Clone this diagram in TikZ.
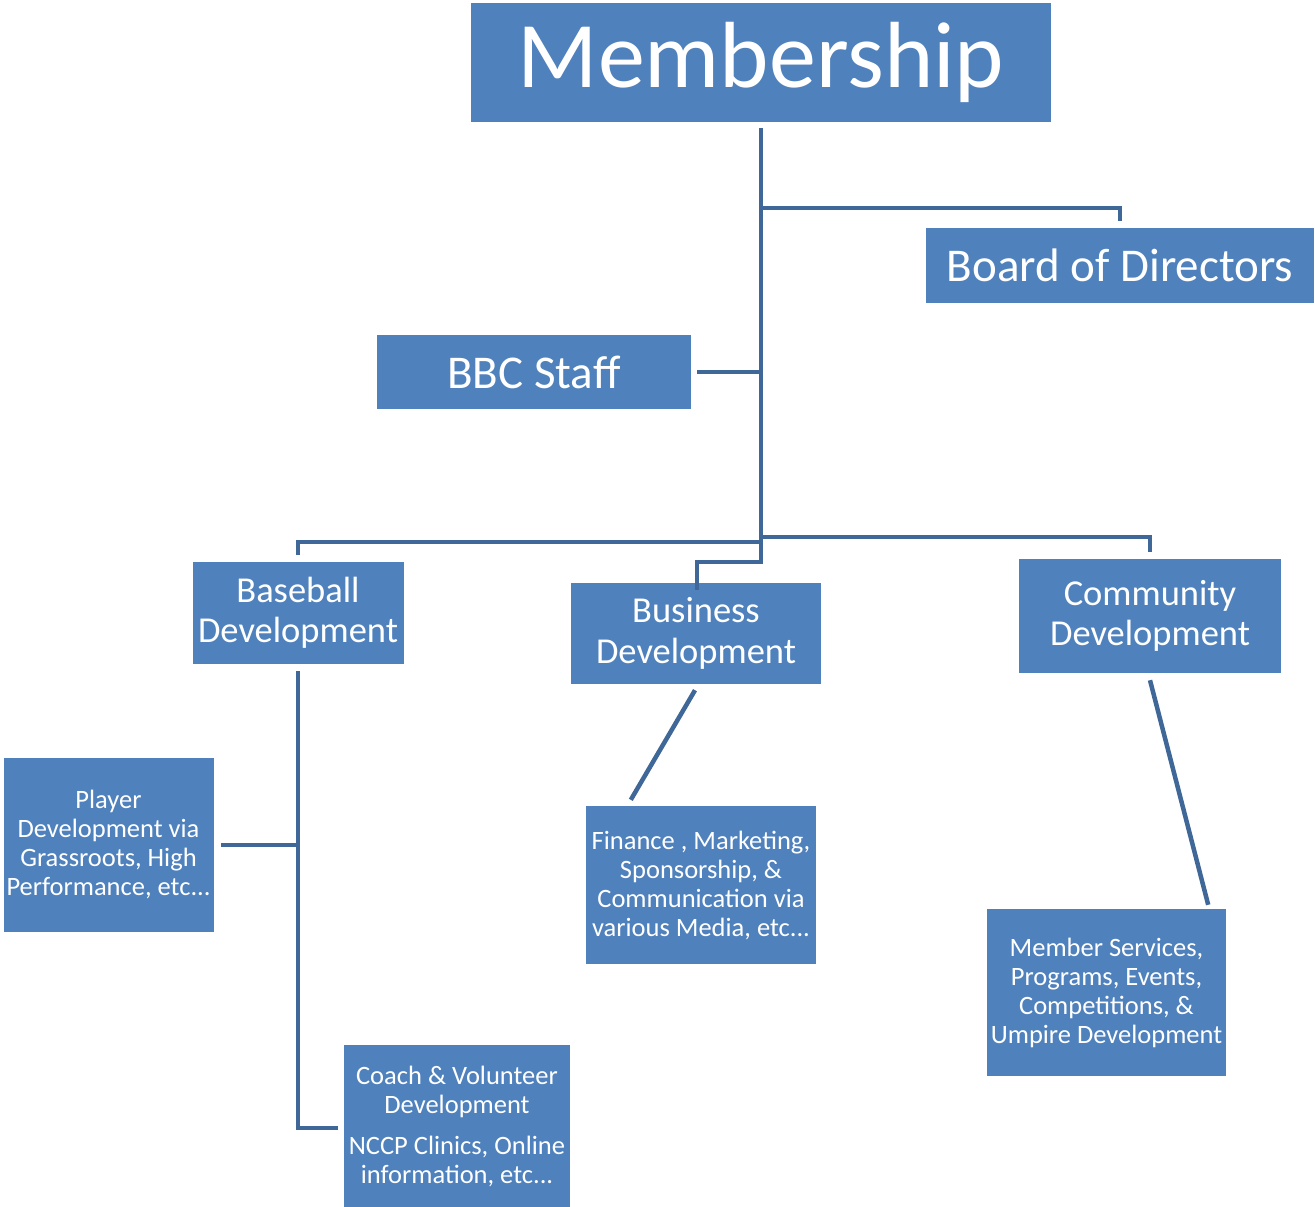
\documentclass[tikz,border=0pt]{standalone}
\usepackage{fontspec}
\setmainfont{Carlito}
\usepackage{tikz}
\usetikzlibrary{arrows.meta}
\definecolor{boxblue}{HTML}{4F81BD}
\definecolor{lineblue}{HTML}{3F6797}
\tikzset{>=Stealth,
  box/.style={fill=boxblue,text=white,inner sep=0pt,align=center},
  bigtxt/.style={font=\fontsize{47}{50}\selectfont},
  midtxt/.style={font=\fontsize{36.5}{40.5}\selectfont},
  smalltxt/.style={font=\fontsize{26.5}{29}\selectfont},
  link/.style={draw=lineblue,line width=4.5pt}}

\begin{document}
\begin{tikzpicture}[x=1pt,y=-1pt]
\useasboundingbox (0,0) rectangle (1315,1207);
\node[box,minimum width=580,minimum height=119,font=\fontsize{94}{100}\selectfont] (mem) at (761,62.5) {Membership};
\node[box,bigtxt,minimum width=388,minimum height=75] (board) at (1120,265.5) {Board of Directors};
\node[box,bigtxt,minimum width=314,minimum height=74] (bbc) at (534,372) {BBC Staff};
\node[box,midtxt,minimum width=211,minimum height=102] (base) at (298,613) {Baseball\\Development};
\node[box,midtxt,minimum width=250,minimum height=101] (bus) at (696,633.5) {Business\\Development};
\node[box,midtxt,minimum width=262,minimum height=114] (comm) at (1150,616) {Community\\Development};
\node[box,smalltxt,minimum width=210,minimum height=174] (player) at (108.5,844.5) {Player\\Development via\\Grassroots, High\\Performance, etc...};
\node[box,smalltxt,minimum width=226,minimum height=162] (coach) at (457,1126) {Coach \& Volunteer\\Development\\[12pt]NCCP Clinics, Online\\information, etc...};
\node[box,smalltxt,minimum width=230,minimum height=158] (fin) at (701,885) {Finance , Marketing,\\Sponsorship, \&\\Communication via\\various Media, etc...};
\node[box,smalltxt,minimum width=239,minimum height=167] (memb) at (1106.5,992.5) {Member Services,\\Programs, Events,\\Competitions, \&\\Umpire Development};
\coordinate (top) at ([yshift=-6pt]mem.south);
\coordinate (jboard) at (761,208);
\coordinate (jleft) at (761,542);
\coordinate (jright) at (761,537);
\coordinate (jbus) at (761,562);
\coordinate (bushook) at (697,562);
\coordinate (jplayer) at (298,845);
\coordinate (jcoach) at (298,1128);
\draw[link] (top) -- (jbus) -- (bushook) -- ([yshift=-7pt]bushook |- bus.north);
\draw[link] (jboard) -| ([yshift=7pt]board.north);
\draw[link] ([xshift=6pt]bbc.east) -- (bbc.east -| top);
\draw[link] (jleft) -| ([yshift=7pt]base.north);
\draw[link] (jright) -| ([yshift=7pt]comm.north);
\draw[link] ([yshift=-7pt]base.south) -- (jcoach) -- ([xshift=-6pt]coach.west |- jcoach);
\draw[link] ([xshift=7pt]player.east |- jplayer) -- (jplayer);
\draw[link] ([shift={(-1,6)}]bus.south) -- ([shift={(45,-6)}]fin.north west);
\draw[link] ([yshift=-7pt]comm.south) -- ([shift={(-18,-4)}]memb.north east);
\end{tikzpicture}
\end{document}
